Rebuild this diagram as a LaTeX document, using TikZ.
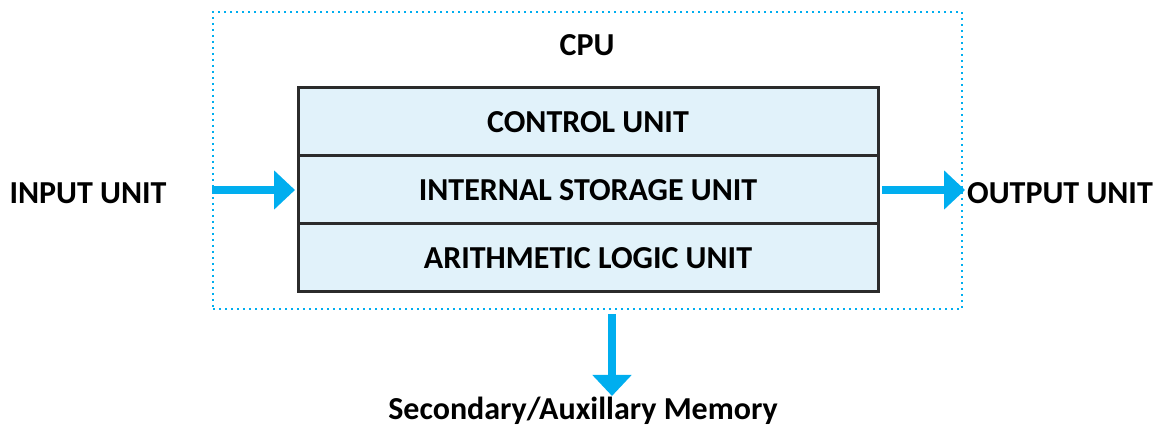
\documentclass[tikz,border=0pt]{standalone}
\usepackage{fontspec}
\setmainfont{Carlito}
\usetikzlibrary{positioning,arrows.meta}
\definecolor{cpublue}{HTML}{00AEEF}
\definecolor{cellfill}{HTML}{E1F2FA}
\definecolor{cellline}{HTML}{2B2B2B}
\tikzset{
  unitbox/.style={draw=cellline,line width=1.5pt,fill=cellfill,minimum width=290pt,minimum height=34pt,inner sep=0pt,outer sep=0pt,font=\bfseries\fontsize{16}{18}\selectfont},
  label/.style={font=\bfseries\fontsize{16}{18}\selectfont,inner sep=0pt},
  flow/.style={draw=cpublue,line width=4pt,-{Triangle[length=10.5pt,width=19pt]}},
}
\begin{document}
\begin{tikzpicture}[x=0.5pt,y=-0.5pt]
\useasboundingbox (0,0) rectangle (1157,426);
%
\node (cpu) [draw=cpublue,line width=1pt,dash pattern=on 1pt off 2pt,minimum width=374.5pt,minimum height=148.5pt,inner sep=0pt] at (587.5,160.5) {};
\node (cputext) [label] at (587,45) {CPU};
%
\node (control) [unitbox] at (588,122) {CONTROL UNIT};
\node (store) [unitbox,below=0pt of control] {INTERNAL STORAGE UNIT};
\node (alu) [unitbox,below=0pt of store] {ARITHMETIC LOGIC UNIT};
%
\node (input) [label] at (88,193) {INPUT UNIT};
\node (output) [label] at (1060,193) {OUTPUT UNIT};
\node (memory) [label] at (583,411) {Secondary/Auxillary Memory};
%
\coordinate (inend) at (cpu.west |- store.west);
\coordinate (outstart) at ([xshift=2pt]store.east);
\coordinate (outend) at (cpu.east |- store.east);
\coordinate (memstart) at ([yshift=-2pt]cpu.south -| 612,0);
\coordinate (memend) at (612,396);
%
\draw[flow] (inend) -- ([xshift=-1.5pt]store.west);
\draw[flow] (outstart) -- ([xshift=1pt]outend);
\draw[flow] (memstart) -- (memend);
\end{tikzpicture}
\end{document}
